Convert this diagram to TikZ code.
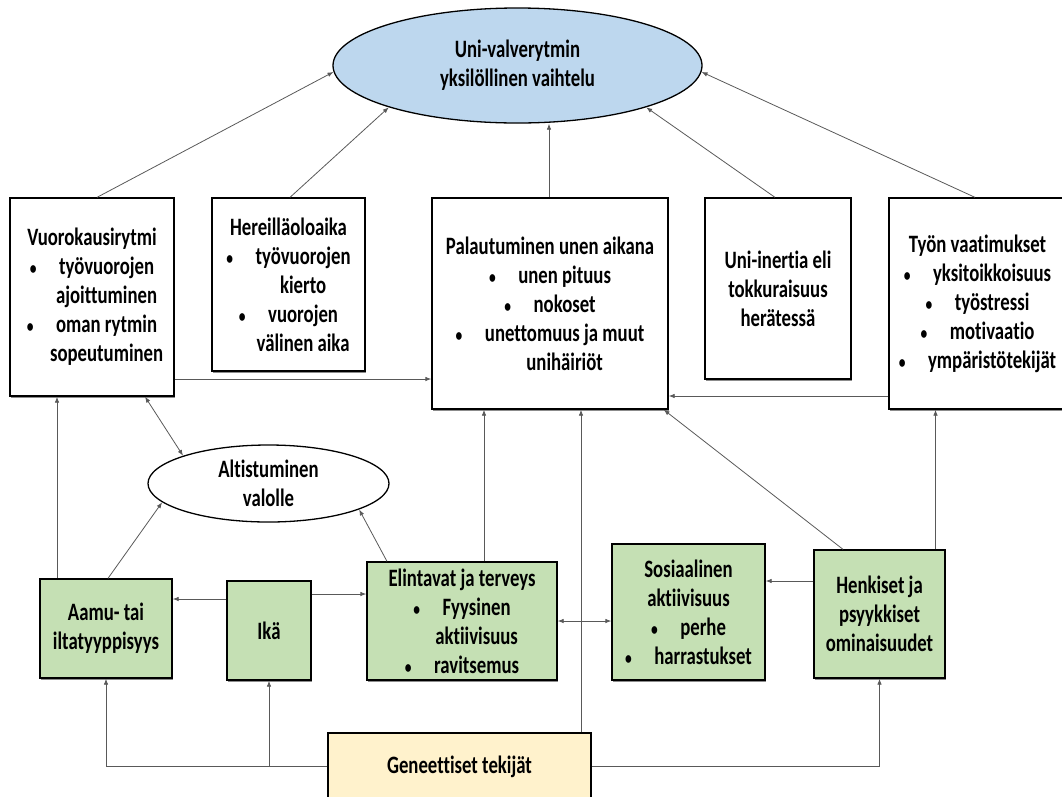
\documentclass[tikz,border=0pt]{standalone}
\usepackage{fontspec}
\setmainfont{Carlito}[Ligatures=NoCommon,FakeStretch=0.75]
\usetikzlibrary{shapes.geometric,arrows.meta,shadows}
\definecolor{uniblue}{HTML}{BDD7EE}
\definecolor{tekgreen}{HTML}{C5E0B4}
\definecolor{geneyellow}{HTML}{FFF2CC}
\newcommand{\bul}{{\fontsize{18}{18}\selectfont\textbullet}\hspace{0.9em}}
\newcommand{\cont}{\hphantom{\bul}}

\begin{document}
\begin{tikzpicture}[x=1pt,y=-1pt,font=\bfseries\fontsize{25}{29}\selectfont,
  >={Latex[length=6pt,width=4.5pt]},
  box/.style={draw=black,line width=1.3pt,fill=white,inner sep=0pt,align=center,
    drop shadow={shadow xshift=0.8pt,shadow yshift=-1.5pt,fill=black!45,opacity=1}},
  greenbox/.style={box,fill=tekgreen},
  oval/.style={ellipse,draw=black,line width=1.3pt,inner sep=0pt,align=center},
  conn/.style={->,draw=black!65,line width=0.8pt}]
\useasboundingbox (0,0) rectangle (1062,796);

% ylarivi
\node[oval,fill=uniblue,minimum width=369pt,minimum height=115pt] (uni) at (517.5,65.5) {Uni-valverytmin\\yksilöllinen vaihtelu};

\node[box,minimum width=164pt,minimum height=198pt] (vuoro) at (92,297) {Vuorokausirytmi\\\bul työvuorojen\\\cont ajoittuminen\\\bul oman rytmin\\\cont sopeutuminen};
\node[box,minimum width=153pt,minimum height=173pt] (herei) at (288.5,284.5) {Hereilläoloaika\\\bul työvuorojen\\\cont kierto\\\bul vuorojen\\\cont välinen aika};
\node[box,minimum width=236pt,minimum height=211pt] (palau) at (550,303.5) {Palautuminen unen aikana\\\bul unen pituus\\\bul nokoset\\\bul unettomuus ja muut\\\cont unihäiriöt};
\node[box,minimum width=146pt,minimum height=181pt] (inert) at (778,288.5) {Uni-inertia eli\\tokkuraisuus\\herätessä};
\node[box,minimum width=177pt,minimum height=211pt] (tyon) at (977.5,303.5) {Työn vaatimukset\\\bul yksitoikkoisuus\\\bul työstressi\\\bul motivaatio\\\bul ympäristötekijät};

\node[oval,fill=white,minimum width=241pt,minimum height=77pt] (alti) at (268.5,483.5) {Altistuminen\\valolle};

% taustatekijat
\node[greenbox,minimum width=132pt,minimum height=99pt] (aamu) at (106,628.5) {Aamu- tai\\iltatyyppisyys};
\node[greenbox,minimum width=84pt,minimum height=99pt] (ika) at (269,630.5) {Ikä};
\node[greenbox,minimum width=190pt,minimum height=118pt] (elin) at (462,621) {Elintavat ja terveys\\\bul Fyysinen\\\cont aktiivisuus\\\bul ravitsemus};
\node[greenbox,minimum width=153pt,minimum height=136pt] (sosi) at (688.5,612) {Sosiaalinen\\aktiivisuus\\\bul perhe\\\bul harrastukset};
\node[greenbox,minimum width=131pt,minimum height=128pt] (henk) at (879.5,614) {Henkiset ja\\psyykkiset\\ominaisuudet};
\node[box,fill=geneyellow,minimum width=263pt,minimum height=67pt] (gene) at (459.5,766.5) {Geneettiset tekijät};

% nuolet ylos
\draw[conn] ([xshift=5pt]vuoro.north) -- (uni.182);
\draw[conn] ([xshift=1.5pt]herei.north) -- (uni.198);
\draw[conn] ([xshift=-1pt]palau.north) -- ([xshift=-1pt]palau.north |- uni.south);
\draw[conn] ([xshift=-3pt]inert.north) -- (uni.342);
\draw[conn] ([xshift=-2.5pt]tyon.north) -- (uni.358);

\draw[conn] ([yshift=-82pt]vuoro.east) -- ([yshift=-82pt]vuoro.east -| palau.west);
\draw[conn] ([yshift=-92.5pt]tyon.west) -- ([yshift=-92.5pt]tyon.west -| palau.east);
\draw[conn,<->] ([xshift=53pt]vuoro.south) -- (alti.162);

\draw[conn] ([xshift=-49pt]aamu.north) -- ([xshift=-49pt]aamu.north |- vuoro.south);
\draw[conn] ([xshift=2pt]aamu.north) -- (alti.190);
\draw[conn] ([xshift=-75pt]elin.north) -- (alti.344);
\draw[conn] ([yshift=31.5pt]ika.west) -- ([yshift=31.5pt]ika.west -| aamu.east);
\draw[conn] ([yshift=36.5pt]ika.east) -- ([yshift=36.5pt]ika.east -| elin.west);
\draw[conn] ([xshift=22pt]elin.north) -- ([xshift=22pt]elin.north |- palau.south);
\draw[conn,<->] (elin.east) -- (elin.east -| sosi.west);
\draw[conn] ([yshift=33pt]henk.west) -- ([yshift=33pt]henk.west -| sosi.east);
\draw[conn] ([xshift=-36.5pt]henk.north) -- ([xshift=-5pt]palau.south east);
\draw[conn] ([xshift=56pt]henk.north) -- ([xshift=56pt]henk.north |- tyon.south);

% geneettiset
\draw[conn] (gene.west) -| (aamu.south);
\draw[conn] (gene.west -| ika.south) -- (ika.south);
\draw[conn] (gene.east) -| (henk.south);
\draw[conn] ([xshift=121.5pt]gene.north) -- ([xshift=121.5pt]gene.north |- palau.south);
\end{tikzpicture}
\end{document}
